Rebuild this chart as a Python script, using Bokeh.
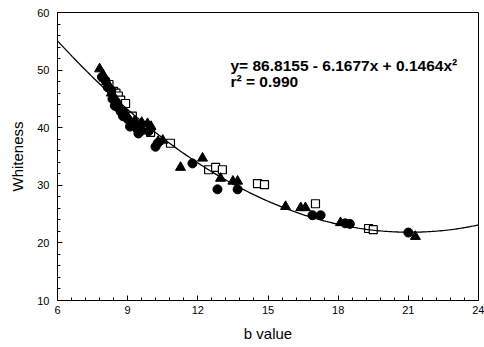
from bokeh.plotting import figure
from bokeh.embed import file_html
from bokeh.resources import INLINE
from bokeh.models import Range1d, FixedTicker, Label
import numpy as np

# Fit coefficients (from the printed equation)
coef_a = 86.8155
coef_b = -6.1677
coef_c = 0.1464
r_squared = "0.990"

# Filled triangles
tri_b = [7.8, 7.95, 8.0, 8.1, 8.2, 8.3, 8.4, 8.6, 8.9, 9.3, 9.6, 9.85, 10.0, 10.3, 10.5,
         11.26, 12.2, 12.97, 13.5, 13.7, 15.75, 16.4, 16.6, 18.1, 21.3]
tri_w = [50.2, 49.2, 48.6, 48.0, 47.2, 46.0, 45.5, 44.0, 42.6, 41.2, 40.9, 40.7, 40.2, 37.6, 37.8,
         33.1, 34.7, 31.2, 30.7, 30.7, 26.3, 26.1, 26.1, 23.5, 21.1]

# Filled circles
cir_b = [7.9, 8.05, 8.15, 8.3, 8.35, 8.45, 8.5, 8.6, 8.7, 8.8, 9.0, 9.1, 9.2, 9.4, 9.46, 9.6, 9.9,
         10.19, 10.28, 11.77, 12.84, 13.7, 16.9, 17.25, 18.3, 18.5, 21.0]
cir_w = [48.8, 48.2, 47.0, 46.5, 45.0, 43.8, 44.5, 43.5, 42.8, 42.0, 41.5, 40.2, 40.5, 39.8, 39.0, 39.5, 39.4,
         36.7, 37.3, 33.8, 29.3, 29.3, 24.8, 24.8, 23.4, 23.3, 21.8]

# Open squares
sq_b = [8.2, 8.4, 8.5, 8.6, 8.7, 8.91, 9.04, 9.2, 9.42, 9.68, 9.98, 10.83,
        12.46, 12.76, 13.05, 14.55, 14.85, 17.03, 19.3, 19.5]
sq_w = [47.5, 46.3, 46.0, 45.5, 44.8, 44.2, 41.8, 42.0, 40.6, 40.4, 39.2, 37.3,
        32.7, 33.1, 32.7, 30.3, 30.1, 26.8, 22.5, 22.3]

x_ticks = [6, 9, 12, 15, 18, 21, 24]
y_ticks = [10, 20, 30, 40, 50, 60]

p = figure(width=484, height=347, output_backend="svg", toolbar_location=None,
           x_range=Range1d(6, 24), y_range=Range1d(10, 60),
           min_border_left=57, min_border_right=6, min_border_top=12, min_border_bottom=47)
p.background_fill_color = "white"
p.border_fill_color = "white"
p.outline_line_color = "black"
p.outline_line_width = 1
p.xgrid.visible = False
p.ygrid.visible = False

for ax in (p.xaxis[0], p.yaxis[0]):
    ax.major_tick_in = 5
    ax.major_tick_out = 0
    ax.minor_tick_in = 3
    ax.minor_tick_out = 0
    ax.axis_line_color = "black"
    ax.major_tick_line_color = "black"
    ax.minor_tick_line_color = "black"
    ax.major_label_text_font = "Liberation Sans"
    ax.major_label_text_font_size = "11px"
    ax.major_label_text_color = "black"
    ax.axis_label_text_font = "Liberation Sans"
    ax.axis_label_text_font_size = "15px"
    ax.axis_label_text_font_style = "normal"
    ax.axis_label_text_color = "black"

p.xaxis.ticker = FixedTicker(ticks=x_ticks, minor_ticks=list(np.round(np.arange(6, 24.01, 0.6), 2)))
p.yaxis.ticker = FixedTicker(ticks=y_ticks, minor_ticks=list(range(10, 61, 2)))
p.xaxis.axis_label = "b value"
p.yaxis.axis_label = "Whiteness"
p.xaxis.major_label_standoff = 5
p.yaxis.major_label_standoff = 8
p.xaxis.axis_label_standoff = 8
p.yaxis.axis_label_standoff = 8

p.scatter(sq_b, sq_w, marker="square", size=8, fill_color="white", line_color="black", line_width=1.2)
p.scatter(cir_b, cir_w, marker="circle", size=9, fill_color="black", line_color="black")
p.scatter(tri_b, tri_w, marker="triangle", size=10, fill_color="black", line_color="black")

xs = np.linspace(6, 24, 200)
ys = coef_a + coef_b * xs + coef_c * xs ** 2
p.line(xs, ys, line_color="black", line_width=1.3)

eq1 = Label(x=173, y=227, x_units="screen", y_units="screen",
            text="y= 86.8155 - 6.1677x + 0.1464x\u00b2", text_font="Liberation Sans",
            text_font_style="bold", text_font_size="15.5px", text_color="black")
eq2 = Label(x=173, y=211, x_units="screen", y_units="screen",
            text="r\u00b2 = " + r_squared, text_font="Liberation Sans",
            text_font_style="bold", text_font_size="15.5px", text_color="black")
p.add_layout(eq1)
p.add_layout(eq2)

open("out.html", "w").write(file_html(p, INLINE))
